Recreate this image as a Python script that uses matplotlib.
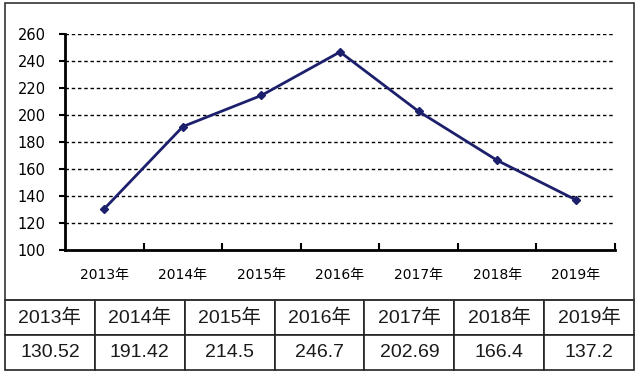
import matplotlib.pyplot as plt
from matplotlib.patches import Rectangle

plt.rcParams['font.family'] = ['DejaVu Sans', 'Noto Sans CJK SC']

# data
years = ['2013年', '2014年', '2015年', '2016年', '2017年', '2018年', '2019年']
values = [130.52, 191.42, 214.5, 246.7, 202.69, 166.4, 137.2]
value_labels = ['130.52', '191.42', '214.5', '246.7', '202.69', '166.4', '137.2']
yticks = [100, 120, 140, 160, 180, 200, 220, 240, 260]

W, H = 640, 373
fig = plt.figure(figsize=(6.4, 3.73), dpi=100)

# chart frame
fig.patches.append(Rectangle((5 / W, 1 - 300 / H), 629 / W, 297 / H,
                             transform=fig.transFigure, fill=False,
                             edgecolor='#333333', linewidth=1.2))

ax = fig.add_axes([65 / W, 1 - 250 / H, 550 / W, 216 / H])
x = range(len(years))
ax.plot(x, values, color='#1c1f6b', linewidth=2, marker='D', markersize=4.5)
ax.set_xlim(-0.5, len(years) - 0.5)
ax.set_ylim(100, 260)
ax.set_yticks(yticks)
for t in yticks[1:]:
    ax.axhline(t, color='black', linestyle=(0, (2.5, 2)), linewidth=1, zorder=0)

ax.set_xticks(list(x))
ax.set_xticklabels(years, fontsize=10)
ax.set_xticks([i + 0.5 for i in range(len(years))], minor=True)
ax.tick_params(axis='x', which='major', length=0, pad=13)
ax.tick_params(axis='x', which='minor', length=5, direction='in', width=1.5)
ax.tick_params(axis='y', labelsize=10.5, length=4, width=1.5, direction='out', pad=10)
for s in ['top', 'right']:
    ax.spines[s].set_visible(False)
for s in ['left', 'bottom']:
    ax.spines[s].set_linewidth(2)

# data table below
tax = fig.add_axes([5 / W, 1 - 370 / H, 629 / W, 70 / H])
tax.axis('off')
tbl = tax.table(cellText=[years, value_labels], cellLoc='center', bbox=[0, 0, 1, 1])
tbl.auto_set_font_size(False)
for (r, c), cell in tbl.get_celld().items():
    cell.set_linewidth(1.2)
    cell.set_edgecolor('#222222')
    txt = cell.get_text()
    txt.set_fontsize(14)
    txt.set_color('#1a1a1a')
    txt.set_family(['Liberation Sans', 'Noto Sans CJK SC'])

fig.savefig('out.png', dpi=100)
